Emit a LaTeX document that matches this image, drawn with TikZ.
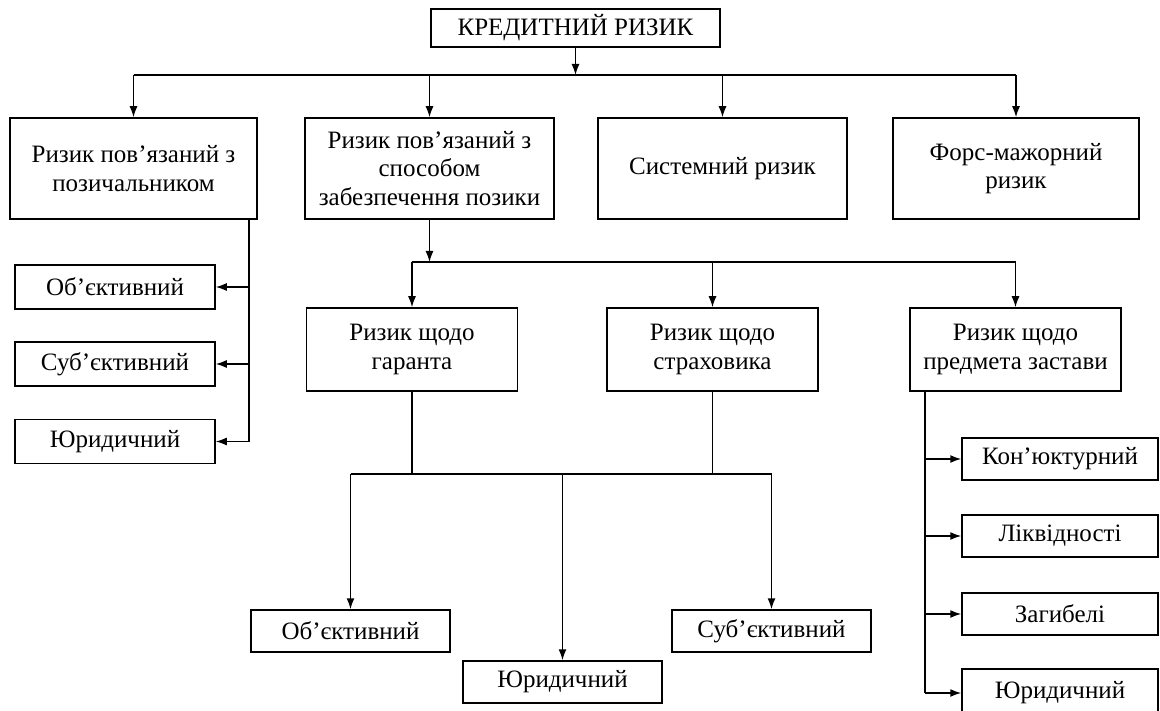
\documentclass[tikz,border=0pt]{standalone}
\usepackage{fontspec}
\setmainfont{Liberation Serif}
\usetikzlibrary{arrows.meta,positioning,calc}
\tikzset{box/.style={draw=black,line width=1.5pt,inner sep=0pt,align=center,font=\fontsize{25}{28.5}\selectfont},
flow/.style={-{Latex[length=11pt,width=8pt]},line width=1.5pt},
link/.style={line width=1.5pt}}
\begin{document}
\begin{tikzpicture}[x=1pt,y=-1pt]
\useasboundingbox (0,0) rectangle (1160,711);
\node[box,minimum width=289pt,minimum height=38pt] (kr) at (575.5,28) {КРЕДИТНИЙ РИЗИК};
% second row
\node[box,minimum width=247pt,minimum height=101pt] (b1) at (133.5,168.5) {Ризик пов’язаний з\\позичальником};
\node[box,minimum width=249pt,minimum height=101pt] (b2) at (429.5,168.5) {Ризик пов’язаний з\\способом\\забезпечення позики};
\node[box,minimum width=249pt,minimum height=101pt] (b3) at (722.5,168.5) {Системний ризик};
\node[box,minimum width=246pt,minimum height=101pt] (b4) at (1016,168.5) {Форс-мажорний\\ризик};
\coordinate (h1) at (575.5,75);
\draw[flow] (kr) -- (h1);
\draw[link] (b1.north |- h1) -- (b4.north |- h1);
\foreach \n in {b1,b2,b3,b4} \draw[flow] (\n.north |- h1) -- (\n);
% borrower
\node[box,minimum width=200pt,minimum height=44pt] (o1) at (115,287) {Об’єктивний};
\node[box,minimum width=200pt,minimum height=44pt] (s1) at (115,364) {Суб’єктивний};
\node[box,minimum width=200pt,minimum height=44pt] (j1) at (115,441.5) {Юридичний};
\coordinate (v1) at (249,0);
\draw[link] (b1.south -| v1) -- (j1 -| v1);
\foreach \n in {o1,s1,j1} \draw[flow] (\n -| v1) -- (\n);
% security
\node[box,minimum width=211pt,minimum height=83pt] (g) at (412,349.5) {Ризик щодо\\гаранта};
\node[box,minimum width=211pt,minimum height=83pt] (s) at (712.5,349.5) {Ризик щодо\\страховика};
\node[box,minimum width=211pt,minimum height=83pt] (z) at (1015.5,349.5) {Ризик щодо\\предмета застави};
\coordinate (h2) at (0,262);
\draw[flow] (b2) -- (b2.south |- h2);
\draw[link] (g.north |- h2) -- (z.north |- h2);
\foreach \n in {g,s,z} \draw[flow] (\n.north |- h2) -- (\n);
% guarantor and insurer
\node[box,minimum width=199pt,minimum height=42pt] (o2) at (350.5,631) {Об’єктивний};
\node[box,minimum width=199pt,minimum height=42pt] (j2) at (562.5,682) {Юридичний};
\node[box,minimum width=199pt,minimum height=42pt] (s2) at (771.5,631) {Суб’єктивний};
\coordinate (h3) at (0,474);
\draw[link] (g) -- (g.south |- h3);
\draw[link] (s) -- (s.south |- h3);
\draw[link] (o2.north |- h3) -- (s2.north |- h3);
\foreach \n in {o2,j2,s2} \draw[flow] (\n.north |- h3) -- (\n);
% pledge
\node[box,minimum width=196pt,minimum height=42pt] (r1) at (1060,459) {Кон’юктурний};
\node[box,minimum width=196pt,minimum height=42pt] (r2) at (1060,536) {Ліквідності};
\node[box,minimum width=196pt,minimum height=42pt] (r3) at (1060,614) {Загибелі};
\node[box,minimum width=196pt,minimum height=48pt] (r4) at (1060,693) {Юридичний};
\coordinate (v2) at (925,0);
\draw[link] (z.south -| v2) -- (r4 -| v2);
\foreach \n in {r1,r2,r3,r4} \draw[flow] (\n -| v2) -- (\n);
\end{tikzpicture}
\end{document}
